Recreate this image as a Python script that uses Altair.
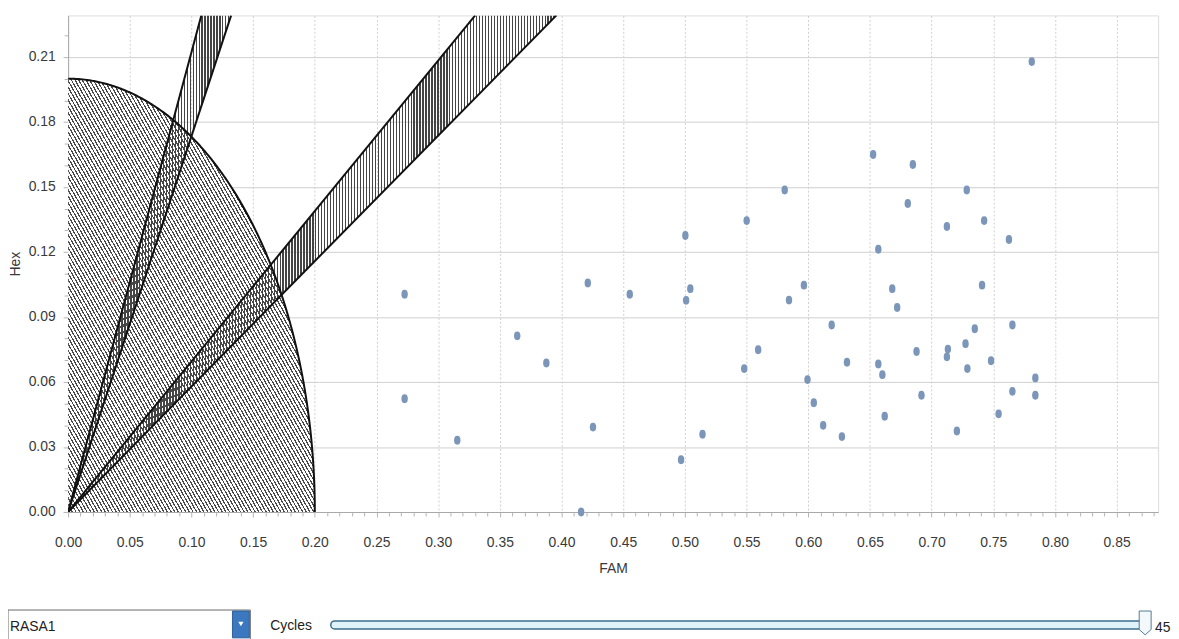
import math
import altair as alt
import pandas as pd

# ---------------- data ----------------
fam = [0.7812, 0.6526, 0.6848, 0.5809, 0.7285, 0.6807, 0.5501, 0.7426, 0.7124, 0.7627,
       0.6568, 0.5965, 0.7409, 0.5844, 0.6681, 0.6721, 0.6190, 0.7350, 0.7655, 0.5594,
       0.6878, 0.7132, 0.7124, 0.7275, 0.5481, 0.6314, 0.6568, 0.6601, 0.7482, 0.7290,
       0.5994, 0.7841, 0.6918, 0.7655, 0.7841, 0.6045, 0.6620, 0.7543, 0.6121, 0.6273,
       0.7205, 0.5143, 0.2728, 0.4213, 0.4553, 0.5004, 0.5044, 0.5010, 0.3641, 0.3877,
       0.2728, 0.3155, 0.4255, 0.4969, 0.4159]
hexv = [0.2079, 0.1650, 0.1604, 0.1486, 0.1486, 0.1424, 0.1345, 0.1345, 0.1318, 0.1258,
        0.1213, 0.1047, 0.1047, 0.0978, 0.1031, 0.0944, 0.0863, 0.0846, 0.0863, 0.0749,
        0.0741, 0.0752, 0.0716, 0.0777, 0.0662, 0.0691, 0.0683, 0.0634, 0.0698, 0.0662,
        0.0611, 0.0619, 0.0539, 0.0557, 0.0539, 0.0504, 0.0442, 0.0453, 0.0400, 0.0348,
        0.0374, 0.0359, 0.1005, 0.1057, 0.1005, 0.1276, 0.1031, 0.0977, 0.0813, 0.0688,
        0.0523, 0.0331, 0.0392, 0.0241, 0.0000]

circle_radius = 0.2
wedge_names = ["w1", "w2"]
wedge_lo_deg = [60.03, 30.07]
wedge_hi_deg = [64.77, 34.78]
marker_fam = [0.036]
marker_hex = [0.107]

x_max = 0.8836
y_max = 0.2292
x_tick_values = [round(i * 0.01, 2) for i in range(0, 89)]
y_tick_values = [round(i * 0.01, 2) for i in range(0, 23)]
combo_text = "RASA1"
slider_label = "Cycles"
slider_value = "45"

FONT = "Liberation Sans, Arial, sans-serif"
PL, PT = 60.5, 5.3
W, H = 1097.5, 500


def rel_x(px):
    return px - (8 + PL)


def rel_y(py):
    return py - (8 + PT)


def stripes(n, dark, light, frac, x1, y1, x2, y2):
    stops = []
    for i in range(n):
        a = i / n
        b = (i + frac) / n
        c = (i + 1) / n
        stops += [alt.GradientStop(offset=a, color=dark), alt.GradientStop(offset=b, color=dark),
                  alt.GradientStop(offset=b, color=light), alt.GradientStop(offset=c, color=light)]
    return alt.LinearGradient(gradient="linear", stops=stops, x1=x1, y1=y1, x2=x2, y2=y2)


xs = alt.Scale(domain=[0, x_max], nice=False, zero=True)
ys = alt.Scale(domain=[0, y_max], nice=False, zero=True)

x_axis = alt.Axis(
    title="FAM", values=x_tick_values, tickCount=500,
    labelExpr="round(datum.value*100) % 5 == 0 ? format(datum.value, '.2f') : ''",
    tickSize={"condition": {"test": "round(datum.value*100) % 5 == 0", "value": 5}, "value": 4},
    gridOpacity={"condition": {"test": "round(datum.value*100) % 5 == 0", "value": 1}, "value": 0},
    gridColor="#cfcfcf", gridDash=[2, 2], tickColor="#b5b5b5", domainColor="#a8a8a8",
    labelFont=FONT, labelFontSize=14, labelColor="#3a3a3a", labelPadding=19,
    titleFont=FONT, titleFontSize=14, titleFontWeight="normal", titleColor="#3a3a3a", titlePadding=12,
    labelFlush=False, labelOverlap=False,
)
y_axis = alt.Axis(
    title="Hex", values=y_tick_values, tickCount=500,
    labelExpr="round(datum.value*100) % 3 == 0 ? format(datum.value, '.2f') : ''",
    tickSize={"condition": {"test": "round(datum.value*100) % 3 == 0", "value": 5}, "value": 4},
    gridOpacity={"condition": {"test": "round(datum.value*100) % 3 == 0", "value": 1}, "value": 0},
    gridColor="#d0d0d0", tickColor="#b5b5b5", domainColor="#a8a8a8",
    labelFont=FONT, labelFontSize=14, labelColor="#3a3a3a", labelPadding=8,
    titleFont=FONT, titleFontSize=14, titleFontWeight="normal", titleColor="#3a3a3a", titlePadding=6,
    labelFlush=False, labelOverlap=False,
)

# ---- quarter circle (hatched) ----
circ = alt.Chart(alt.sequence(0, 90.25, 0.25, as_="deg")).transform_calculate(
    fx=f"{circle_radius}*cos(datum.deg*PI/180)",
    fy=f"{circle_radius}*sin(datum.deg*PI/180)",
)
circle_fill = circ.mark_area(
    clip=True, orient="vertical",
    fill=stripes(135, "#4a4a4a", "#ffffff", 0.38, 0, 1, 1, 0),
).encode(
    x=alt.X("fx:Q", scale=xs, axis=x_axis),
    y=alt.Y("fy:Q", scale=ys, axis=y_axis),
    y2=alt.datum(0),
)
circle_line = circ.mark_line(clip=True, color="#111111", strokeWidth=2).encode(
    x=alt.X("fx:Q", scale=xs), y=alt.Y("fy:Q", scale=ys), order="deg:Q"
)

# ---- wedges ----
wedge_rows = []
edge_rows = []
for name, lo, hi in zip(wedge_names, wedge_lo_deg, wedge_hi_deg):
    wedge_rows.append({"name": name, "y": 0.0, "lo": lo, "hi": hi})
    wedge_rows.append({"name": name, "y": y_max, "lo": lo, "hi": hi})
    for ang in (lo, hi):
        edge_rows.append({"edge": f"{name}_{ang}", "y": 0.0, "ang": ang})
        edge_rows.append({"edge": f"{name}_{ang}", "y": y_max, "ang": ang})
wedges = pd.DataFrame(wedge_rows)
edges = pd.DataFrame(edge_rows)

wedge_layers = []
for name, n in zip(wedge_names, [55, 164]):
    wedge_layers.append(
        alt.Chart(wedges[wedges["name"] == name]).transform_calculate(
            xl="datum.y / tan(datum.hi*PI/180)",
            xr="datum.y / tan(datum.lo*PI/180)",
        ).mark_area(
            clip=True, orient="horizontal",
            fill=stripes(n, "#444444", "rgba(255,255,255,0)", 0.42, 0, 0, 1, 0),
        ).encode(
            y=alt.Y("y:Q", scale=ys), x=alt.X("xl:Q", scale=xs), x2="xr:Q"
        )
    )
edge_lines = alt.Chart(edges).transform_calculate(
    ex="datum.y / tan(datum.ang*PI/180)"
).mark_line(clip=True, color="#111111", strokeWidth=2).encode(
    x=alt.X("ex:Q", scale=xs), y=alt.Y("y:Q", scale=ys), detail="edge:N"
)

# ---- scatter ----
ellipse = ("M0,-1 C0.55,-1 0.72,-0.55 0.72,0 C0.72,0.55 0.55,1 0,1 "
           "C-0.55,1 -0.72,0.55 -0.72,0 C-0.72,-0.55 -0.55,-1 0,-1 Z")
pts = alt.Chart(pd.DataFrame({"FAM": fam, "Hex": hexv})).mark_point(
    filled=True, shape=ellipse, size=80, color="#7b96b9", opacity=1
).encode(x=alt.X("FAM:Q", scale=xs), y=alt.Y("Hex:Q", scale=ys))

red = alt.Chart(pd.DataFrame({"FAM": marker_fam, "Hex": marker_hex})).mark_point(
    shape="cross", size=18, color="#c46a6a", opacity=0.5, filled=True
).encode(x=alt.X("FAM:Q", scale=xs), y=alt.Y("Hex:Q", scale=ys))

# ---- bottom controls ----
one = pd.DataFrame({"k": [0]})
base = alt.Chart(one)
combo = base.mark_rect(fill="#ffffff", stroke="#6a6a6a", strokeWidth=1).encode(
    x=alt.value(rel_x(8)), x2=alt.value(rel_x(252)), y=alt.value(rel_y(612)), y2=alt.value(rel_y(650)))
combo_btn = base.mark_rect(fill="#3b78bf", stroke="#2d5f99").encode(
    x=alt.value(rel_x(234)), x2=alt.value(rel_x(251)), y=alt.value(rel_y(613)), y2=alt.value(rel_y(640)))
combo_arrow = base.mark_point(shape="triangle-down", size=28, filled=True, color="#ffffff", opacity=1).encode(
    x=alt.value(rel_x(242.5)), y=alt.value(rel_y(626)))
combo_txt = base.mark_text(align="left", baseline="middle", font=FONT, fontSize=14, color="#222222").encode(
    x=alt.value(rel_x(10)), y=alt.value(rel_y(629)), text=alt.value(combo_text))
cyc_txt = base.mark_text(align="left", baseline="middle", font=FONT, fontSize=14, color="#222222").encode(
    x=alt.value(rel_x(272)), y=alt.value(rel_y(628)), text=alt.value(slider_label))
track = base.mark_rect(fill="#e0f3fa", stroke="#3d6f8e", strokeWidth=1.5, cornerRadius=4).encode(
    x=alt.value(rel_x(333)), x2=alt.value(rel_x(1152)), y=alt.value(rel_y(623)), y2=alt.value(rel_y(631)))
thumb = base.mark_point(shape="M-0.5,-1 L0.5,-1 L0.5,0.55 L0,1 L-0.5,0.55 Z", size=576, filled=False,
                        stroke="#55798f", strokeWidth=1, fill="#f3f8fb", fillOpacity=1, opacity=1).encode(
    x=alt.value(rel_x(1153)), y=alt.value(rel_y(625)))
val_txt = base.mark_text(align="left", baseline="middle", font=FONT, fontSize=14, color="#222222").encode(
    x=alt.value(rel_x(1163)), y=alt.value(rel_y(630)), text=alt.value(slider_value))

chart = alt.layer(
    circle_fill, *wedge_layers, circle_line, edge_lines, pts, red,
    combo, combo_btn, combo_arrow, combo_txt, cyc_txt, track, thumb, val_txt
).properties(
    width=W, height=H, autosize="none",
    padding={"left": PL, "top": PT, "right": 13, "bottom": 125.7},
).configure_view(stroke="#b4b4b4", strokeWidth=1).configure(background="#ffffff")

chart.save("out.html", embed_options={"renderer": "svg", "actions": False})
